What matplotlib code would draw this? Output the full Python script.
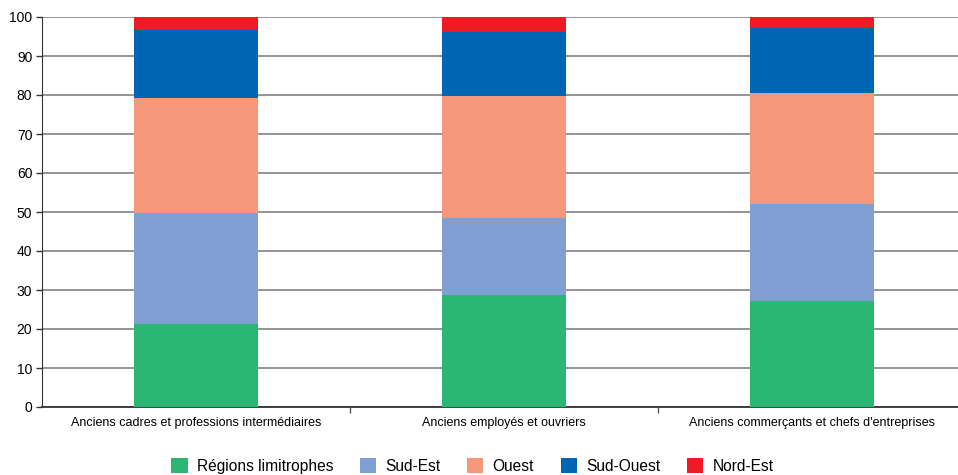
import matplotlib
matplotlib.use("Agg")
import matplotlib.pyplot as plt
import numpy as np

plt.rcParams['font.family'] = ['Liberation Sans', 'DejaVu Sans']

categories = ["Anciens cadres et professions intermédiaires",
              "Anciens employés et ouvriers",
              "Anciens commerçants et chefs d'entreprises"]
series = ["Régions limitrophes", "Sud-Est", "Ouest", "Sud-Ouest", "Nord-Est"]

limitrophes = [21.2, 28.6, 27.3]
sud_est = [28.6, 19.9, 24.8]
ouest = [29.5, 31.2, 28.5]
sud_ouest = [17.4, 16.5, 16.6]
nord_est = [3.3, 3.8, 2.8]

colors = ["#2BB673", "#7F9FD3", "#F4977A", "#0066B3", "#ED1C24"]
values = [limitrophes, sud_est, ouest, sud_ouest, nord_est]

fig = plt.figure(figsize=(9.58, 4.75), dpi=100)
ax = fig.add_axes([42 / 958, 1 - 407 / 475, 1 - 42 / 958, (407 - 17) / 475])

x = np.arange(len(categories))
bottom = np.zeros(len(categories))
for name, vals, c in zip(series, values, colors):
    ax.bar(x, vals, 0.4, bottom=bottom, color=c, label=name, zorder=3)
    bottom += np.array(vals)

ax.set_ylim(0, 100)
ax.set_xlim(-0.5, 2.474)
ax.set_yticks(range(0, 101, 10))
ax.yaxis.grid(True, color="#8c8c8c", linewidth=1.3, zorder=0)
ax.set_axisbelow(True)

ax.set_xticks(x)
ax.set_xticklabels(categories, fontsize=9)
ax.tick_params(axis='x', length=0, pad=7)
ax.set_xticks([0.5, 1.5], minor=True)
ax.tick_params(axis='x', which='minor', length=4, width=1, color="#555555")
ax.tick_params(axis='y', labelsize=10, length=4, width=1, color="#333333", pad=3)

for s in ["top", "right"]:
    ax.spines[s].set_visible(False)
ax.spines["left"].set_color("#333333")
ax.spines["bottom"].set_color("#333333")
ax.spines["bottom"].set_linewidth(1.3)

fig.legend(loc="center", bbox_to_anchor=(0.493, 0.019), ncol=5, frameon=False,
           fontsize=11.2, handlelength=1.05, handleheight=1.05, columnspacing=1.7,
           handletextpad=0.6)

fig.savefig("out.png", dpi=100)
